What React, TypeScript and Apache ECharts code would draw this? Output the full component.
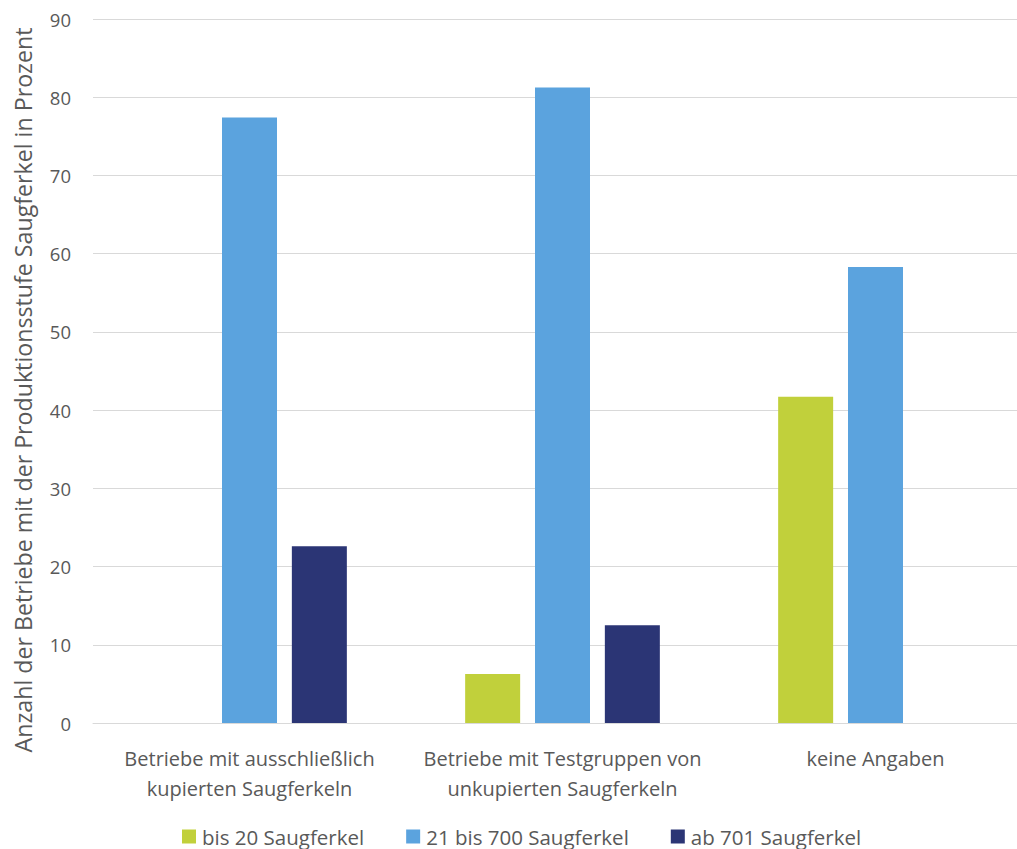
import React, { useEffect, useRef } from "react";
import * as echarts from "echarts";

const categories = [
  "Betriebe mit ausschließlich\nkupierten Saugferkeln",
  "Betriebe mit Testgruppen von\nunkupierten Saugferkeln",
  "keine Angaben",
];
const seriesNames = ["bis 20 Saugferkel", "21 bis 700 Saugferkel", "ab 701 Saugferkel"];
const bis20 = [0, 6.25, 41.7];
const bis700 = [77.4, 81.25, 58.3];
const ab701 = [22.6, 12.5, 0];
const colors = ["#C1D03B", "#5BA3DE", "#2B3575"];
const yTitle = "Anzahl der Betriebe mit der Produktionsstufe Saugferkel in Prozent";

export default function App() {
  const ref = useRef<HTMLDivElement>(null);
  useEffect(() => {
    const chart = echarts.init(ref.current!, null, { renderer: "svg" });
    const font = "'Open Sans', sans-serif";
    const values = [bis20, bis700, ab701];
    chart.setOption({
      animation: false,
      grid: { left: 93, right: 8, top: 19, bottom: 126, containLabel: false },
      legend: {
        top: 826,
        left: 182,
        padding: 0,
        itemWidth: 14,
        itemHeight: 14,
        itemGap: 42,
        icon: "rect",
        textStyle: { fontFamily: font, fontSize: 20.5, lineHeight: 20, color: "#595959", padding: [0, 0, 0, 1] },
        data: seriesNames,
      },
      graphic: [
        {
          type: "text",
          x: 23,
          y: 390,
          rotation: Math.PI / 2,
          style: {
            text: yTitle,
            fontFamily: font,
            fontSize: 23.2,
            fill: "#595959",
            textAlign: "center",
            textVerticalAlign: "middle",
          },
        },
      ],
      xAxis: {
        type: "category",
        data: categories,
        axisLine: { lineStyle: { color: "#D9D9D9" } },
        axisTick: { show: false },
        axisLabel: {
          interval: 0,
          fontFamily: font,
          fontSize: 20,
          color: "#595959",
          lineHeight: 30,
          margin: 20,
        },
      },
      yAxis: {
        type: "value",
        min: 0,
        max: 90,
        interval: 10,
        axisLine: { show: false },
        axisTick: { show: false },
        splitLine: { lineStyle: { color: "#D9D9D9", width: 1 } },
        axisLabel: { fontFamily: font, fontSize: 18.5, color: "#595959", margin: 22 },
      },
      series: seriesNames.map((name, i) => ({
        name,
        type: "bar",
        data: values[i],
        barWidth: 55,
        barGap: "27%",
        barCategoryGap: "37.7%",
        itemStyle: { color: colors[i] },
      })),
    });
    return () => chart.dispose();
  }, []);
  return (
    <div
      style={{ position: "fixed", left: 0, top: 0, width: 1017, height: 849, overflow: "hidden", background: "#fff" }}
    >
      <div ref={ref} style={{ width: 1040, height: 849 }} />
    </div>
  );
}
